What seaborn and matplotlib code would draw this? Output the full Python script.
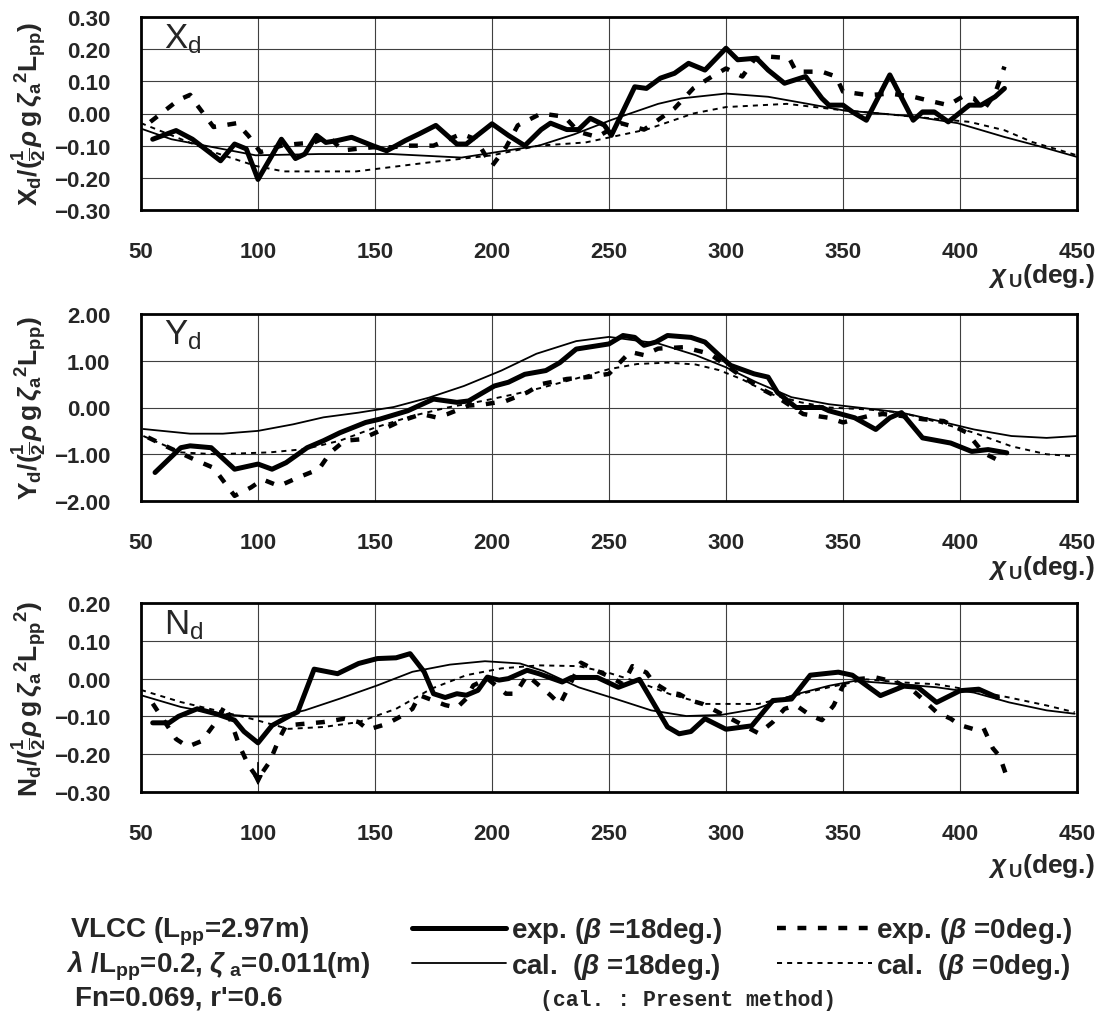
import matplotlib
matplotlib.use('Agg')
from matplotlib import pyplot as plt
from matplotlib.ticker import FuncFormatter
import pandas as pd
import seaborn as sns

# ---- data (chi_U in deg.) ----
# Xd
xd_exp18_x = [55, 65, 72, 84, 90, 95, 100, 110, 116, 120, 125, 129, 134, 140, 149, 155, 163, 169, 176, 185,
               189, 200, 207, 214, 221, 225, 232, 237, 242, 248, 251, 261, 266, 272, 278, 284, 291, 300, 305, 313,
               318, 325, 334, 341, 344, 350, 354, 360, 370, 380, 384, 389, 395, 404, 409, 415, 419]
xd_exp18_y = [-0.08, -0.053, -0.08, -0.147, -0.095, -0.11, -0.205, -0.08, -0.14, -0.126, -0.068, -0.09, -0.084,
              -0.074, -0.10, -0.116, -0.084, -0.063, -0.037, -0.095, -0.095, -0.032, -0.068, -0.10, -0.05, -0.03,
              -0.05, -0.05, -0.015, -0.036, -0.068, 0.083, 0.078, 0.11, 0.125, 0.156, 0.135, 0.203, 0.167, 0.172,
              0.135, 0.094, 0.115, 0.047, 0.026, 0.026, 0.005, -0.021, 0.12, -0.021, 0.005, 0.005, -0.026, 0.026,
              0.026, 0.052, 0.078]
xd_cal18_x = [50, 63, 81, 99, 126, 157, 187, 202, 220, 235, 251, 271, 281, 300, 318, 335, 350, 366, 381, 399,
              419, 435, 450]
xd_cal18_y = [-0.047, -0.08, -0.105, -0.13, -0.126, -0.126, -0.137, -0.12, -0.1, -0.065, -0.02, 0.03, 0.047,
              0.062, 0.052, 0.03, 0.01, 0.0, -0.01, -0.03, -0.073, -0.104, -0.135]
xd_exp0_x = [54, 66, 71, 74, 81, 91, 96, 101, 110, 116, 124, 130, 136, 142, 149, 157, 164, 175, 187, 193,
             200, 206, 211, 221, 231, 237, 245, 255, 265, 271, 278, 286, 294, 300, 307, 312, 318, 327, 330, 341,
             347, 350, 361, 370, 380, 389, 395, 401, 406, 410, 415, 419]
xd_exp0_y = [-0.026, 0.042, 0.058, 0.026, -0.042, -0.03, -0.07, -0.12, -0.10, -0.095, -0.09, -0.07, -0.115,
             -0.11, -0.105, -0.105, -0.10, -0.10, -0.063, -0.08, -0.163, -0.105, -0.037, 0.0, -0.01, -0.057,
             -0.073, -0.03, -0.05, -0.02, 0.016, 0.078, 0.115, 0.14, 0.115, 0.167, 0.177, 0.172, 0.13, 0.13,
             0.115, 0.068, 0.057, 0.062, 0.052, 0.036, 0.026, 0.052, 0.047, 0.01, 0.062, 0.146]
xd_cal0_x = [50, 81, 99, 111, 142, 172, 200, 220, 240, 253, 266, 286, 300, 326, 350, 366, 380, 404, 419, 431, 450]
xd_cal0_y = [-0.03, -0.12, -0.163, -0.18, -0.18, -0.153, -0.13, -0.10, -0.09, -0.07, -0.05, 0.0, 0.02, 0.03,
             0.01, 0.0, -0.01, -0.026, -0.052, -0.089, -0.13]

# Yd
yd_exp18_x = [56, 67, 71, 80, 90, 100, 106, 112, 121, 128, 135, 146, 152, 164, 175, 185, 190, 201, 207, 214,
              223, 229, 236, 250, 256, 261, 265, 270, 275, 285, 291, 297, 302, 312, 318, 322, 330, 341, 344, 355,
              364, 370, 375, 384, 396, 405, 412, 420]
yd_exp18_y = [-1.39, -0.86, -0.82, -0.86, -1.32, -1.21, -1.32, -1.18, -0.86, -0.71, -0.54, -0.32, -0.25, -0.07,
              0.18, 0.11, 0.14, 0.46, 0.54, 0.71, 0.79, 0.96, 1.25, 1.36, 1.54, 1.50, 1.33, 1.40, 1.54, 1.50,
              1.40, 1.12, 0.90, 0.72, 0.65, 0.32, 0.0, 0.0, -0.07, -0.22, -0.47, -0.22, -0.11, -0.65, -0.76,
              -0.94, -0.90, -0.97]
yd_cal18_x = [51, 71, 85, 100, 115, 128, 143, 158, 173, 188, 204, 219, 236, 250, 271, 287, 300, 313, 328, 344,
              360, 375, 391, 406, 422, 437, 450]
yd_cal18_y = [-0.46, -0.56, -0.56, -0.5, -0.36, -0.21, -0.11, 0.01, 0.21, 0.46, 0.79, 1.15, 1.42, 1.51, 1.37,
              1.12, 0.86, 0.54, 0.22, 0.07, -0.02, -0.11, -0.29, -0.47, -0.61, -0.65, -0.61]
yd_exp0_x = [53, 62, 74, 81, 90, 97, 102, 109, 117, 126, 131, 137, 144, 152, 161, 170, 176, 181, 190, 197,
             206, 215, 221, 232, 241, 250, 259, 265, 271, 282, 293, 304, 315, 322, 333, 344, 350, 361, 367, 375,
             384, 393, 403, 410, 416]
yd_exp0_y = [-0.64, -0.86, -1.14, -1.29, -1.89, -1.71, -1.54, -1.68, -1.5, -1.32, -0.96, -0.71, -0.68, -0.5,
             -0.29, -0.14, -0.21, -0.14, 0.04, 0.07, 0.14, 0.32, 0.5, 0.61, 0.65, 0.72, 1.19, 1.12, 1.26, 1.29,
             1.15, 0.76, 0.40, 0.22, -0.14, -0.22, -0.32, -0.18, -0.14, -0.18, -0.25, -0.29, -0.54, -0.97, -1.12]
yd_cal0_x = [51, 67, 82, 105, 120, 135, 150, 166, 181, 196, 211, 221, 236, 250, 262, 275, 287, 297, 307, 319,
             332, 344, 360, 375, 391, 406, 422, 437, 448]
yd_cal0_y = [-0.61, -0.96, -1.0, -0.96, -0.89, -0.71, -0.43, -0.18, 0.0, 0.14, 0.30, 0.42, 0.62, 0.82, 0.93,
             0.96, 0.92, 0.80, 0.60, 0.29, 0.11, 0.0, -0.04, -0.11, -0.32, -0.54, -0.83, -1.0, -1.04]

# Nd
nd_exp18_x = [55, 62, 66, 74, 82, 90, 94, 100, 106, 114, 117, 124, 134, 143, 151, 159, 165, 171, 175, 180,
              185, 189, 194, 198, 203, 207, 215, 220, 230, 234, 245, 254, 263, 275, 280, 285, 291, 300, 311, 320,
              328, 336, 348, 354, 366, 376, 382, 390, 400, 408, 416]
nd_exp18_y = [-0.117, -0.117, -0.10, -0.08, -0.093, -0.11, -0.14, -0.17, -0.124, -0.097, -0.088, 0.025, 0.013,
              0.04, 0.053, 0.055, 0.066, 0.018, -0.04, -0.05, -0.04, -0.044, -0.031, 0.004, -0.004, 0.0, 0.022,
              0.013, -0.009, 0.003, 0.003, -0.023, -0.002, -0.128, -0.146, -0.14, -0.106, -0.134, -0.125, -0.058,
              -0.054, 0.009, 0.017, 0.009, -0.045, -0.02, -0.023, -0.063, -0.032, -0.028, -0.05]
nd_cal18_x = [50, 67, 82, 97, 109, 120, 135, 151, 166, 182, 197, 212, 222, 237, 253, 268, 283, 298, 313, 329,
              344, 355, 375, 390, 406, 421, 437, 449]
nd_cal18_y = [-0.044, -0.075, -0.093, -0.1, -0.1, -0.084, -0.053, -0.018, 0.018, 0.037, 0.046, 0.04, 0.02,
              -0.023, -0.054, -0.084, -0.099, -0.096, -0.08, -0.043, -0.019, -0.006, -0.015, -0.023, -0.037,
              -0.063, -0.084, -0.093]
nd_exp0_x = [55, 65, 70, 76, 82, 86, 92, 96, 100, 105, 109, 112, 119, 128, 137, 143, 147, 155, 161, 166,
             169, 180, 185, 189, 192, 198, 206, 210, 215, 225, 229, 238, 245, 251, 256, 260, 266, 269, 276, 280,
             285, 290, 314, 320, 325, 330, 336, 341, 346, 350, 355, 364, 373, 380, 384, 390, 396, 400, 406, 410,
             414, 417, 420]
nd_exp0_y = [-0.066, -0.16, -0.18, -0.165, -0.115, -0.07, -0.177, -0.23, -0.265, -0.22, -0.16, -0.124, -0.12,
             -0.115, -0.106, -0.115, -0.135, -0.12, -0.1, -0.08, -0.044, -0.07, -0.077, -0.053, -0.018, 0.0,
             -0.04, -0.04, 0.009, -0.044, -0.068, 0.042, 0.02, 0.003, -0.015, 0.033, 0.016, -0.01, -0.037,
             -0.041, -0.058, -0.067, -0.145, -0.115, -0.08, -0.071, -0.097, -0.11, -0.071, -0.019, -0.002, 0.003,
             -0.01, -0.032, -0.054, -0.089, -0.106, -0.123, -0.134, -0.13, -0.184, -0.206, -0.26]
nd_cal0_x = [50, 67, 82, 97, 113, 128, 143, 159, 174, 189, 204, 220, 237, 250, 263, 276, 291, 314, 329, 344,
             360, 375, 390, 406, 421, 437, 449]
nd_cal0_y = [-0.03, -0.062, -0.084, -0.106, -0.133, -0.128, -0.115, -0.08, -0.027, 0.009, 0.027, 0.035, 0.033,
             0.015, -0.01, -0.041, -0.067, -0.067, -0.045, -0.023, -0.002, -0.01, -0.015, -0.032, -0.05, -0.071,
             -0.089]

x_ticks = [50, 100, 150, 200, 250, 300, 350, 400, 450]
xd_ticks = [-0.30, -0.20, -0.10, 0.00, 0.10, 0.20, 0.30]
yd_ticks = [-2.0, -1.0, 0.0, 1.0, 2.0]
nd_ticks = [-0.30, -0.20, -0.10, 0.00, 0.10, 0.20]

series_labels = [r'exp. ($\it{\beta}$ =18deg.)', r'cal.  ($\it{\beta}$ =18deg.)',
                 r'exp. ($\it{\beta}$ =0deg.)', r'cal.  ($\it{\beta}$ =0deg.)']

sns.set_style('white')
plt.rcParams['font.family'] = ['Liberation Sans', 'DejaVu Sans']
plt.rcParams['font.weight'] = 'bold'
plt.rcParams['mathtext.fontset'] = 'custom'
plt.rcParams['mathtext.rm'] = 'Liberation Sans:bold'
plt.rcParams['mathtext.it'] = 'Liberation Sans:italic:bold'
plt.rcParams['mathtext.bf'] = 'Liberation Sans:bold'

line_styles = [dict(lw=3.6, ls='-'),
               dict(lw=1.3, ls='-'),
               dict(lw=3.2, ls=(0, (2.0, 2.6))),
               dict(lw=1.4, ls=(0, (2.6, 2.6)))]

panels = [
    dict(series=[(xd_exp18_x, xd_exp18_y), (xd_cal18_x, xd_cal18_y), (xd_exp0_x, xd_exp0_y), (xd_cal0_x, xd_cal0_y)],
         ticks=xd_ticks, name=r'$\mathregular{X_d}$',
         ylabel=r'$\mathrm{X_d}/(\frac{1}{2}\rho\,\mathrm{g}\,\zeta_{\mathrm{a}}{}^{2}\mathrm{L_{pp}})$',
         pos=[141 / 1102, 1 - 211 / 1020, 936 / 1102, 193 / 1020], xlab_y=276),
    dict(series=[(yd_exp18_x, yd_exp18_y), (yd_cal18_x, yd_cal18_y), (yd_exp0_x, yd_exp0_y), (yd_cal0_x, yd_cal0_y)],
         ticks=yd_ticks, name=r'$\mathregular{Y_d}$',
         ylabel=r'$\mathrm{Y_d}/(\frac{1}{2}\rho\,\mathrm{g}\,\zeta_{\mathrm{a}}{}^{2}\mathrm{L_{pp}})$',
         pos=[141 / 1102, 1 - 502 / 1020, 936 / 1102, 187 / 1020], xlab_y=568),
    dict(series=[(nd_exp18_x, nd_exp18_y), (nd_cal18_x, nd_cal18_y), (nd_exp0_x, nd_exp0_y), (nd_cal0_x, nd_cal0_y)],
         ticks=nd_ticks, name=r'$\mathregular{N_d}$',
         ylabel=r'$\mathrm{N_d}/(\frac{1}{2}\rho\,\mathrm{g}\,\zeta_{\mathrm{a}}{}^{2}\mathrm{L_{pp}}{}^{2})$',
         pos=[141 / 1102, 1 - 793 / 1020, 936 / 1102, 189 / 1020], xlab_y=866),
]

fig = plt.figure(figsize=(11.02, 10.20), dpi=100)
fmt = FuncFormatter(lambda v, p: f'{v:.2f}'.replace('-', '\u2212'))

for pnl in panels:
    ax = fig.add_axes(pnl['pos'])
    for (xs, ys), st, lab in zip(pnl['series'], line_styles, series_labels):
        df = pd.DataFrame({'chi': xs, 'F': ys})
        sns.lineplot(data=df, x='chi', y='F', ax=ax, color='black', linewidth=st['lw'],
                     linestyle=st['ls'], label=lab, estimator=None, sort=False)
    if ax.get_legend():
        ax.get_legend().remove()
    ax.set_xlim(50, 450)
    ax.set_ylim(pnl['ticks'][0], pnl['ticks'][-1])
    ax.set_xticks(x_ticks)
    ax.set_yticks(pnl['ticks'])
    ax.yaxis.set_major_formatter(fmt)
    ax.grid(True, color='0.25', lw=0.8)
    for sp in ax.spines.values():
        sp.set_visible(True)
        sp.set_color('black')
        sp.set_linewidth(2.0)
    ax.tick_params(length=0, labelsize=16)
    ax.tick_params(axis='x', pad=22)
    ax.tick_params(axis='y', pad=22)
    ax.set_xlabel('')
    ax.set_ylabel(pnl['ylabel'], fontsize=19)
    ax.yaxis.set_label_coords(-0.098, 0.5)
    ax.text(0.025, 0.89, pnl['name'], transform=ax.transAxes, fontsize=25,
            fontweight='normal', va='center', ha='left')
    fig.text(1095 / 1102, 1 - pnl['xlab_y'] / 1020, r'$\chi_{\,\mathrm{U}}$(deg.)', fontsize=19,
             ha='right', va='center')
    last_ax = ax

# arrow marking the clipped exp. point at 100 deg in the Nd panel
last_ax.annotate('', xy=(100, -0.29), xytext=(100, -0.215),
                 arrowprops=dict(arrowstyle='-|>', color='black', lw=1.2, mutation_scale=14))

handles, labels = last_ax.get_legend_handles_labels()
fig.legend(handles, labels, ncol=2, loc='center', bbox_to_anchor=(742 / 1102, 1 - 949 / 1020),
           frameon=False, handlelength=3.4, handletextpad=0.15, columnspacing=2.0,
           labelspacing=0.2, fontsize=20)

fig.text(70 / 1102, 1 - 932 / 1020, r'VLCC (L$_{\rm pp}$=2.97m)', fontsize=20, ha='left', va='center')
fig.text(66 / 1102, 1 - 966 / 1020, r'$\it{\lambda}$ /L$_{\rm pp}$=0.2, $\it{\zeta}_{\rm \ a}$=0.011(m)',
         fontsize=20, ha='left', va='center')
fig.text(75 / 1102, 1 - 999 / 1020, "Fn=0.069, r'=0.6", fontsize=20, ha='left', va='center')
fig.text(688 / 1102, 1 - 1001 / 1020, '(cal. : Present method)', fontsize=15.5, ha='center', va='center',
         family=['Liberation Mono', 'DejaVu Sans Mono'])

plt.savefig('out.png', dpi=100)
